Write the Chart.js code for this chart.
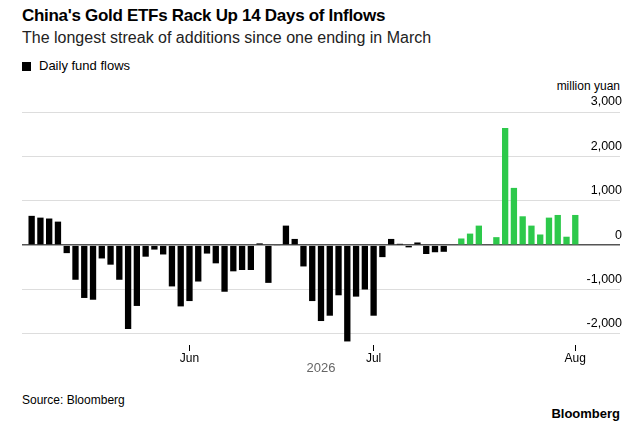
<!DOCTYPE html><html><head><meta charset="utf-8">
<script src="https://cdn.jsdelivr.net/npm/chart.js"></script>
<style>
body{margin:0;width:640px;height:429px;background:#fff;font-family:"Liberation Sans",Arial,sans-serif;position:relative;overflow:hidden}
.t{position:absolute;white-space:nowrap}
</style></head><body>
<div class="t" style="left:22px;top:6px;font-size:17px;font-weight:bold;color:#000;letter-spacing:-0.3px">China's Gold ETFs Rack Up 14 Days of Inflows</div>
<div class="t" style="left:22px;top:29px;font-size:16px;color:#222">The longest streak of additions since one ending in March</div>
<div class="t" style="left:22px;top:58px;font-size:13px;color:#000"><span style="display:inline-block;width:9px;height:9px;background:#000;margin-right:8px;vertical-align:-1px"></span>Daily fund flows</div>
<div class="t" style="right:20px;top:79px;font-size:12px;color:#000">million yuan</div>
<div class="t" style="left:22px;top:393px;font-size:12px;color:#000">Source: Bloomberg</div>
<div class="t" style="right:20px;top:406px;font-size:13px;font-weight:bold;color:#000">Bloomberg</div>
<div style="position:absolute;left:0;top:80px;width:640px;height:300px"><canvas id="c"></canvas></div>
<script>
const flows=[660,620,600,530,-180,-780,-1190,-1230,-300,-440,-780,-1890,-1370,-260,-100,-210,-930,-1380,-1260,-820,-190,-410,-1050,-590,-560,-560,40,-850,-20,440,140,-480,-1260,-1710,
-1590,-1130,-2170,-1160,-1000,-1590,-270,140,30,-50,60,-200,-160,-150,0,150,260,440,0,180,2640,1290,650,440,240,620,680,190,680];
const monthTicks={18:'Jun',39:'Jul',62:'Aug'};
const inflowStart=49;
const yTicks=[-2000,-1000,0,1000,2000,3000];
new Chart(document.getElementById('c'),{type:'bar',
data:{datasets:[{data:flows.map((v,i)=>({x:i,y:v})),
backgroundColor:flows.map((v,i)=>i>=inflowStart?'#2dc94b':'#000'),
barPercentage:0.72,categoryPercentage:1}]},
options:{responsive:true,maintainAspectRatio:false,animation:false,
layout:{padding:{left:22,right:20,top:32,bottom:0}},
plugins:{legend:{display:false},tooltip:{enabled:false}},
scales:{
x:{type:'linear',min:-1.1,max:67.1,offset:false,
afterFit:s=>{s.height=35},
border:{display:false},
grid:{offset:false,drawOnChartArea:false,tickLength:6,color:c=>c.tick&&monthTicks[c.tick.value]?'#000':'transparent'},
ticks:{stepSize:1,autoSkip:false,maxRotation:0,padding:0,color:'#000',font:{size:12,family:'Liberation Sans'},callback:v=>monthTicks[v]||''},
title:{display:true,text:'2026',color:'#666',font:{size:13,family:'Liberation Sans'},padding:{top:2}}},
y:{position:'right',min:-2250,max:3000,
afterFit:s=>{s.width=0},
afterBuildTicks:s=>{s.ticks=yTicks.map(v=>({value:v}))},
border:{display:false},
grid:{color:c=>c.tick&&c.tick.value===0?'#555':'#ddd',lineWidth:c=>c.tick&&c.tick.value===0?1.5:1,drawTicks:false},
ticks:{mirror:true,padding:2,labelOffset:-10,color:'#000',font:{size:12.5,family:'Liberation Sans'},callback:v=>v.toLocaleString('en-US')}}}}});
</script></body></html>
